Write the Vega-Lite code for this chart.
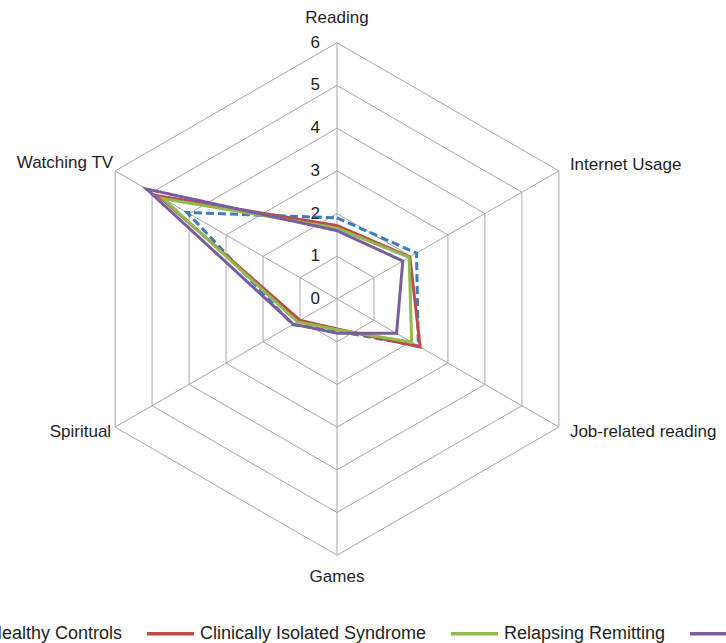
{
  "$schema": "https://vega.github.io/schema/vega-lite/v6.json",
  "width": 726,
  "height": 643,
  "padding": 0,
  "autosize": {"type": "none"},
  "background": "white",
  "config": {
    "view": {"stroke": null},
    "text": {"font": "Liberation Sans", "fontSize": 17, "color": "#1f1f1f"},
    "legend": {
      "labelFont": "Liberation Sans",
      "labelFontSize": 18,
      "labelColor": "#1f1f1f",
      "labelLimit": 400,
      "symbolType": "stroke",
      "symbolSize": 2209,
      "symbolStrokeWidth": 3.5,
      "columnPadding": 17,
      "labelOffset": 4,
      "padding": 0
    }
  },
  "datasets": {
    "grid": [
      {"level": 1, "k": 0}, {"level": 1, "k": 1}, {"level": 1, "k": 2}, {"level": 1, "k": 3}, {"level": 1, "k": 4}, {"level": 1, "k": 5}, {"level": 1, "k": 6},
      {"level": 2, "k": 0}, {"level": 2, "k": 1}, {"level": 2, "k": 2}, {"level": 2, "k": 3}, {"level": 2, "k": 4}, {"level": 2, "k": 5}, {"level": 2, "k": 6},
      {"level": 3, "k": 0}, {"level": 3, "k": 1}, {"level": 3, "k": 2}, {"level": 3, "k": 3}, {"level": 3, "k": 4}, {"level": 3, "k": 5}, {"level": 3, "k": 6},
      {"level": 4, "k": 0}, {"level": 4, "k": 1}, {"level": 4, "k": 2}, {"level": 4, "k": 3}, {"level": 4, "k": 4}, {"level": 4, "k": 5}, {"level": 4, "k": 6},
      {"level": 5, "k": 0}, {"level": 5, "k": 1}, {"level": 5, "k": 2}, {"level": 5, "k": 3}, {"level": 5, "k": 4}, {"level": 5, "k": 5}, {"level": 5, "k": 6},
      {"level": 6, "k": 0}, {"level": 6, "k": 1}, {"level": 6, "k": 2}, {"level": 6, "k": 3}, {"level": 6, "k": 4}, {"level": 6, "k": 5}, {"level": 6, "k": 6}
    ],
    "spokes": [
      {"k": 0, "r": 0}, {"k": 0, "r": 6},
      {"k": 1, "r": 0}, {"k": 1, "r": 6},
      {"k": 2, "r": 0}, {"k": 2, "r": 6},
      {"k": 3, "r": 0}, {"k": 3, "r": 6},
      {"k": 4, "r": 0}, {"k": 4, "r": 6},
      {"k": 5, "r": 0}, {"k": 5, "r": 6}
    ],
    "ticks": [{"v": 0}, {"v": 1}, {"v": 2}, {"v": 3}, {"v": 4}, {"v": 5}, {"v": 6}],
    "labels": [
      {"label": "Reading", "k": 0},
      {"label": "Internet Usage", "k": 1},
      {"label": "Job-related reading", "k": 2},
      {"label": "Games", "k": 3},
      {"label": "Spiritual", "k": 4},
      {"label": "Watching TV", "k": 5}
    ],
    "series": [
      {"group": "Healthy Controls", "axis": "Reading", "k": 0, "value": 1.9},
      {"group": "Healthy Controls", "axis": "Internet Usage", "k": 1, "value": 2.15},
      {"group": "Healthy Controls", "axis": "Job-related reading", "k": 2, "value": 2.2},
      {"group": "Healthy Controls", "axis": "Games", "k": 3, "value": 0.75},
      {"group": "Healthy Controls", "axis": "Spiritual", "k": 4, "value": 1.2},
      {"group": "Healthy Controls", "axis": "Watching TV", "k": 5, "value": 4.05},
      {"group": "Healthy Controls", "axis": "Reading", "k": 6, "value": 1.9},
      {"group": "Clinically Isolated Syndrome", "axis": "Reading", "k": 0, "value": 1.72},
      {"group": "Clinically Isolated Syndrome", "axis": "Internet Usage", "k": 1, "value": 1.97},
      {"group": "Clinically Isolated Syndrome", "axis": "Job-related reading", "k": 2, "value": 2.25},
      {"group": "Clinically Isolated Syndrome", "axis": "Games", "k": 3, "value": 0.7},
      {"group": "Clinically Isolated Syndrome", "axis": "Spiritual", "k": 4, "value": 1.0},
      {"group": "Clinically Isolated Syndrome", "axis": "Watching TV", "k": 5, "value": 4.83},
      {"group": "Clinically Isolated Syndrome", "axis": "Reading", "k": 6, "value": 1.72},
      {"group": "Relapsing Remitting", "axis": "Reading", "k": 0, "value": 1.66},
      {"group": "Relapsing Remitting", "axis": "Internet Usage", "k": 1, "value": 1.95},
      {"group": "Relapsing Remitting", "axis": "Job-related reading", "k": 2, "value": 2.02},
      {"group": "Relapsing Remitting", "axis": "Games", "k": 3, "value": 0.72},
      {"group": "Relapsing Remitting", "axis": "Spiritual", "k": 4, "value": 1.07},
      {"group": "Relapsing Remitting", "axis": "Watching TV", "k": 5, "value": 4.7},
      {"group": "Relapsing Remitting", "axis": "Reading", "k": 6, "value": 1.66},
      {"group": "Secondary Progressive", "axis": "Reading", "k": 0, "value": 1.6},
      {"group": "Secondary Progressive", "axis": "Internet Usage", "k": 1, "value": 1.78},
      {"group": "Secondary Progressive", "axis": "Job-related reading", "k": 2, "value": 1.61},
      {"group": "Secondary Progressive", "axis": "Games", "k": 3, "value": 0.8},
      {"group": "Secondary Progressive", "axis": "Spiritual", "k": 4, "value": 1.18},
      {"group": "Secondary Progressive", "axis": "Watching TV", "k": 5, "value": 5.15},
      {"group": "Secondary Progressive", "axis": "Reading", "k": 6, "value": 1.6}
    ]
  },
  "layer": [
    {
      "data": {"name": "grid"},
      "transform": [
        {"calculate": "datum.level * sin(datum.k * PI / 3)", "as": "px"},
        {"calculate": "datum.level * cos(datum.k * PI / 3)", "as": "py"}
      ],
      "mark": {"type": "line", "color": "#a8a8a8", "strokeWidth": 1},
      "encoding": {
        "x": {"field": "px", "type": "quantitative", "scale": {"domain": [-7.892, 9.11], "nice": false, "zero": false}, "axis": null},
        "y": {"field": "py", "type": "quantitative", "scale": {"domain": [-8.056, 7.002], "nice": false, "zero": false}, "axis": null},
        "detail": {"field": "level", "type": "nominal"},
        "order": {"field": "k", "type": "quantitative"}
      }
    },
    {
      "data": {"name": "spokes"},
      "transform": [
        {"calculate": "datum.r * sin(datum.k * PI / 3)", "as": "px"},
        {"calculate": "datum.r * cos(datum.k * PI / 3)", "as": "py"}
      ],
      "mark": {"type": "line", "color": "#a8a8a8", "strokeWidth": 1},
      "encoding": {
        "x": {"field": "px", "type": "quantitative"},
        "y": {"field": "py", "type": "quantitative"},
        "detail": {"field": "k", "type": "nominal"},
        "order": {"field": "r", "type": "quantitative"}
      }
    },
    {
      "data": {"name": "series"},
      "transform": [
        {"calculate": "datum.value * sin(datum.k * PI / 3)", "as": "px"},
        {"calculate": "datum.value * cos(datum.k * PI / 3)", "as": "py"}
      ],
      "mark": {"type": "line", "strokeWidth": 3, "strokeJoin": "miter"},
      "encoding": {
        "x": {"field": "px", "type": "quantitative"},
        "y": {"field": "py", "type": "quantitative"},
        "color": {
          "field": "group", "type": "nominal",
          "scale": {
            "domain": ["Healthy Controls", "Clinically Isolated Syndrome", "Relapsing Remitting", "Secondary Progressive"],
            "range": ["#3b7bc1", "#be4b48", "#8fbb4f", "#7a5da0"]
          },
          "legend": {"title": null, "orient": "none", "direction": "horizontal", "legendX": -66, "legendY": 608}
        },
        "strokeDash": {
          "field": "group", "type": "nominal",
          "scale": {
            "domain": ["Healthy Controls", "Clinically Isolated Syndrome", "Relapsing Remitting", "Secondary Progressive"],
            "range": [[8, 4], [1, 0], [1, 0], [1, 0]]
          },
          "legend": {"title": null, "orient": "none", "direction": "horizontal", "legendX": -66, "legendY": 608}
        },
        "order": {"field": "k", "type": "quantitative"}
      }
    },
    {
      "data": {"name": "ticks"},
      "mark": {"type": "text", "align": "right", "baseline": "middle", "dx": -17, "fontSize": 17},
      "encoding": {
        "x": {"datum": 0, "type": "quantitative"},
        "y": {"field": "v", "type": "quantitative"},
        "text": {"field": "v", "type": "quantitative"}
      }
    },
    {
      "data": {"name": "labels"},
      "transform": [
        {"filter": "datum.k == 0"},
        {"calculate": "6 * sin(datum.k * PI / 3)", "as": "px"},
        {"calculate": "6 * cos(datum.k * PI / 3)", "as": "py"}
      ],
      "mark": {"type": "text", "align": "center", "baseline": "middle", "dy": -25},
      "encoding": {
        "x": {"field": "px", "type": "quantitative"},
        "y": {"field": "py", "type": "quantitative"},
        "text": {"field": "label", "type": "nominal"}
      }
    },
    {
      "data": {"name": "labels"},
      "transform": [
        {"filter": "datum.k == 3"},
        {"calculate": "6 * sin(datum.k * PI / 3)", "as": "px"},
        {"calculate": "6 * cos(datum.k * PI / 3)", "as": "py"}
      ],
      "mark": {"type": "text", "align": "center", "baseline": "middle", "dy": 22},
      "encoding": {
        "x": {"field": "px", "type": "quantitative"},
        "y": {"field": "py", "type": "quantitative"},
        "text": {"field": "label", "type": "nominal"}
      }
    },
    {
      "data": {"name": "labels"},
      "transform": [
        {"filter": "datum.k == 1"},
        {"calculate": "6 * sin(datum.k * PI / 3)", "as": "px"},
        {"calculate": "6 * cos(datum.k * PI / 3)", "as": "py"}
      ],
      "mark": {"type": "text", "align": "left", "baseline": "middle", "dx": 11, "dy": -6},
      "encoding": {
        "x": {"field": "px", "type": "quantitative"},
        "y": {"field": "py", "type": "quantitative"},
        "text": {"field": "label", "type": "nominal"}
      }
    },
    {
      "data": {"name": "labels"},
      "transform": [
        {"filter": "datum.k == 2"},
        {"calculate": "6 * sin(datum.k * PI / 3)", "as": "px"},
        {"calculate": "6 * cos(datum.k * PI / 3)", "as": "py"}
      ],
      "mark": {"type": "text", "align": "left", "baseline": "middle", "dx": 11, "dy": 5},
      "encoding": {
        "x": {"field": "px", "type": "quantitative"},
        "y": {"field": "py", "type": "quantitative"},
        "text": {"field": "label", "type": "nominal"}
      }
    },
    {
      "data": {"name": "labels"},
      "transform": [
        {"filter": "datum.k == 4"},
        {"calculate": "6 * sin(datum.k * PI / 3)", "as": "px"},
        {"calculate": "6 * cos(datum.k * PI / 3)", "as": "py"}
      ],
      "mark": {"type": "text", "align": "right", "baseline": "middle", "dx": -4, "dy": 5},
      "encoding": {
        "x": {"field": "px", "type": "quantitative"},
        "y": {"field": "py", "type": "quantitative"},
        "text": {"field": "label", "type": "nominal"}
      }
    },
    {
      "data": {"name": "labels"},
      "transform": [
        {"filter": "datum.k == 5"},
        {"calculate": "6 * sin(datum.k * PI / 3)", "as": "px"},
        {"calculate": "6 * cos(datum.k * PI / 3)", "as": "py"}
      ],
      "mark": {"type": "text", "align": "right", "baseline": "middle", "dx": -2, "dy": -8},
      "encoding": {
        "x": {"field": "px", "type": "quantitative"},
        "y": {"field": "py", "type": "quantitative"},
        "text": {"field": "label", "type": "nominal"}
      }
    }
  ]
}
